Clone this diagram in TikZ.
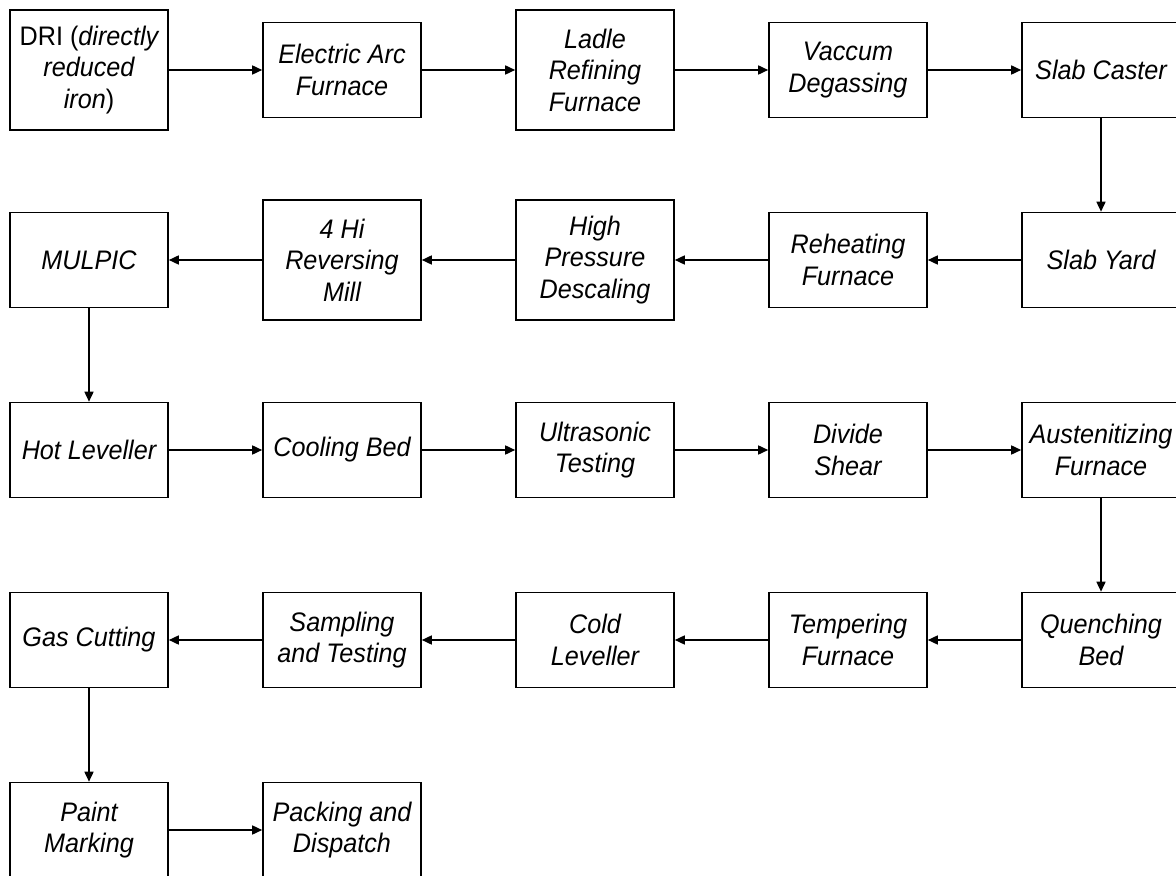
\documentclass[tikz,border=0pt]{standalone}
\usepackage{fontspec}
\setmainfont{Liberation Sans}[FakeStretch=0.94]
\usetikzlibrary{positioning}
\usetikzlibrary{arrows.meta}

\begin{document}
\begin{tikzpicture}[node distance=46.7pt, thick,
    stepbox/.style = {draw, rectangle, minimum width=79pt, minimum height=47.5pt, inner sep=0pt, align=center, font=\fontsize{13.4}{15.75}\selectfont\itshape},
    tallbox/.style = {stepbox, minimum height=60pt},
    flow/.style = {-{Triangle[length=5pt, width=4.5pt]}}]
    \useasboundingbox (0,0) rectangle (588pt,-438pt);
    % first row, left to right
    \node[tallbox] (dri) at (44.5pt,-35pt) {\textup{DRI (}directly\\reduced\\iron\textup{)}};
    \node[stepbox] (eaf) [right=of dri] {Electric Arc\\Furnace};
    \node[tallbox] (ladle) [right=of eaf] {Ladle\\Refining\\Furnace};
    \node[stepbox] (vacuum) [right=of ladle] {Vaccum\\Degassing};
    \node[stepbox] (caster) [right=of vacuum] {Slab Caster};
    % second row, right to left
    \node[stepbox] (yard) [below=of caster] {Slab Yard};
    \node[stepbox] (reheat) [left=of yard] {Reheating\\Furnace};
    \node[tallbox] (descale) [left=of reheat] {High\\Pressure\\Descaling};
    \node[tallbox] (mill) [left=of descale] {4 Hi\\Reversing\\Mill};
    \node[stepbox] (mulpic) [left=of mill] {MULPIC};
    % third row
    \node[stepbox] (hotlev) [below=of mulpic] {Hot Leveller};
    \node[stepbox] (cooling) [right=of hotlev] {Cooling Bed};
    \node[stepbox] (ultra) [right=of cooling] {Ultrasonic\\Testing};
    \node[stepbox] (shear) [right=of ultra] {Divide\\Shear};
    \node[stepbox] (austen) [right=of shear] {Austenitizing\\Furnace};
    % fourth row
    \node[stepbox] (quench) [below=of austen] {Quenching\\Bed};
    \node[stepbox] (temper) [left=of quench] {Tempering\\Furnace};
    \node[stepbox] (coldlev) [left=of temper] {Cold\\Leveller};
    \node[stepbox] (sampling) [left=of coldlev] {Sampling\\and Testing};
    \node[stepbox] (gascut) [left=of sampling] {Gas Cutting};
    % last row
    \node[stepbox] (paint) [below=of gascut] {Paint\\Marking};
    \node[stepbox] (packing) [right=of paint] {Packing and\\Dispatch};
    \draw[flow] (dri) -- (eaf);
    \draw[flow] (eaf) -- (ladle);
    \draw[flow] (ladle) -- (vacuum);
    \draw[flow] (vacuum) -- (caster);
    \draw[flow] (caster) -- (yard);
    \draw[flow] (yard) -- (reheat);
    \draw[flow] (reheat) -- (descale);
    \draw[flow] (descale) -- (mill);
    \draw[flow] (mill) -- (mulpic);
    \draw[flow] (mulpic) -- (hotlev);
    \draw[flow] (hotlev) -- (cooling);
    \draw[flow] (cooling) -- (ultra);
    \draw[flow] (ultra) -- (shear);
    \draw[flow] (shear) -- (austen);
    \draw[flow] (austen) -- (quench);
    \draw[flow] (quench) -- (temper);
    \draw[flow] (temper) -- (coldlev);
    \draw[flow] (coldlev) -- (sampling);
    \draw[flow] (sampling) -- (gascut);
    \draw[flow] (gascut) -- (paint);
    \draw[flow] (paint) -- (packing);
\end{tikzpicture}
\end{document}
